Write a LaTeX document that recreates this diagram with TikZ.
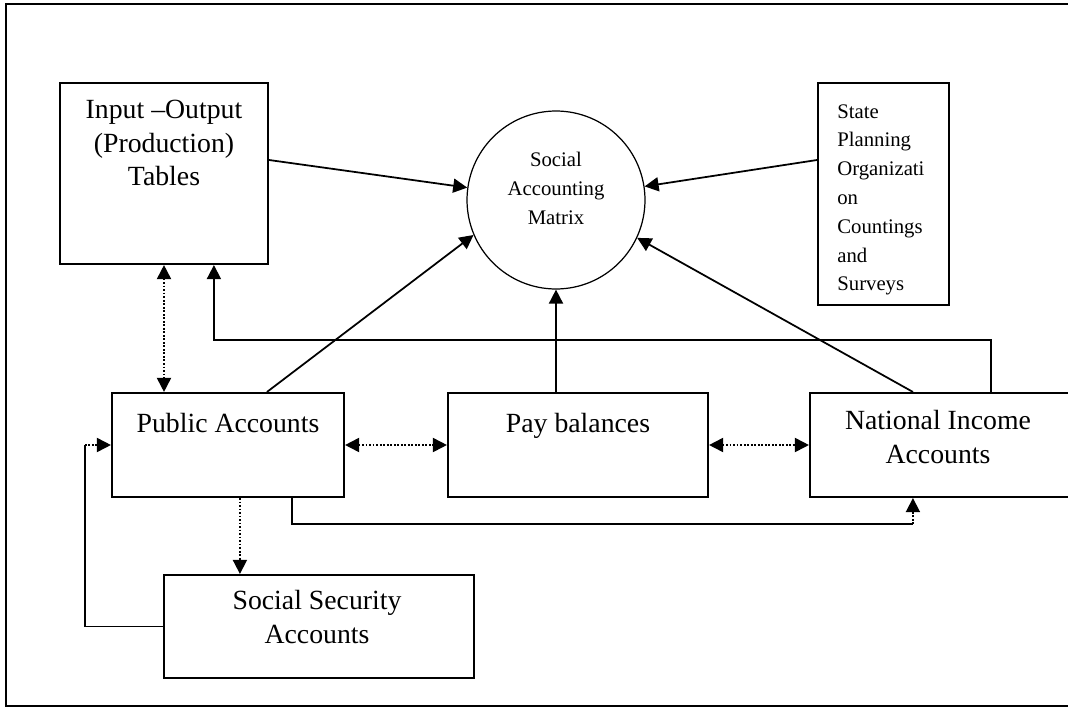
\documentclass[tikz,border=0pt]{standalone}
\usepackage{fontspec}
\setmainfont{Liberation Serif}
\usetikzlibrary{arrows.meta,calc,fit}

\begin{document}
\begin{tikzpicture}[
    x=0.02cm, y=-0.02cm,
    type-box/.style={rectangle, draw, line width=1.2pt, inner sep=0pt},
    type-matrix/.style={circle, draw, line width=0.7pt, inner sep=0pt, minimum size=3.56cm},
    big-text/.style={font=\fontsize{15.8}{19}\selectfont, align=center, inner sep=0pt, anchor=north},
    small-text/.style={font=\fontsize{11.8}{16.4}\selectfont, inner sep=0pt},
    flow/.style={line width=1pt, -{Triangle[length=8pt,width=8pt]}},
    flow-dotted/.style={flow, densely dotted},
    link/.style={line width=1pt, densely dotted, {Triangle[length=8pt,width=8pt]}-{Triangle[length=8pt,width=8pt]}},
    plain/.style={line width=1pt}
  ]
  \useasboundingbox (0,0) rectangle (1068,710);
  \draw[line width=1.2pt] (6,4) rectangle (1090,706);

  % sources and the matrix
  \node[type-box, fit={(60,83) (268,264)}] (io) {};
  \node[type-box, fit={(818,83) (949,305)}] (spo) {};
  \node[type-matrix] (sam) at (556,200) {};
  \node[big-text] (io-text) at (164,100) {Input –Output\\(Production)\\Tables};
  \node[small-text, align=center, anchor=north] (sam-text) at (556,152) {Social\\Accounting\\Matrix};
  \node[small-text, align=left, anchor=north west] (spo-text) at (837,104)
    {State\\Planning\\Organizati\\on\\Countings\\and\\Surveys};

  % accounts
  \node[type-box, fit={(112,393) (344,497)}] (pub) {};
  \node[type-box, fit={(448,393) (708,497)}] (pay) {};
  \node[type-box, fit={(810,393) (1085,497)}] (nat) {};
  \node[type-box, fit={(164,575) (474,678)}] (ss) {};
  \node[big-text] (pub-text) at (228,413) {Public Accounts};
  \node[big-text] (pay-text) at (578,413) {Pay balances};
  \node[big-text] (nat-text) at (938,410) {National Income\\Accounts};
  \node[big-text] (ss-text) at (317,590) {Social Security\\Accounts};

  % into the matrix
  \draw[flow] ([yshift=0.27cm]io.east) -- (sam);
  \draw[flow] ([yshift=0.68cm]spo.west) -- (sam);
  \draw[flow] ([xshift=0.78cm]pub.north) -- (sam.203);
  \draw[flow] (sam.south |- pay.north) -- (sam.south);
  \draw[flow] ([xshift=2.08cm]nat.north west) -- (sam.-25);
  \draw[flow] ([xshift=3.64cm]nat.north west) -- ++(0,-52) -| ([xshift=3.1cm]io.south west);

  % between the accounts
  \draw[link] (io.south) -- (io.south |- pub.north);
  \draw[link] (pub.east) -- (pay.west);
  \draw[link] (pay.east) -- (nat.west);

  \coordinate (pub-nat) at ([xshift=2.08cm, yshift=-0.52cm]nat.south west);
  \draw[plain] ([xshift=3.62cm]pub.south west) |- (pub-nat);
  \draw[flow-dotted] (pub-nat) -- ([xshift=2.08cm]nat.south west);

  \coordinate (pub-ss) at ([xshift=2.58cm]pub.south west);
  \draw[flow-dotted] (pub-ss) -- (pub-ss |- ss.north);

  \coordinate (ss-pub) at ([xshift=-0.52cm]pub.west);
  \draw[plain] (ss.west) -| (ss-pub);
  \draw[flow-dotted] (ss-pub) -- (pub.west);
\end{tikzpicture}
\end{document}
